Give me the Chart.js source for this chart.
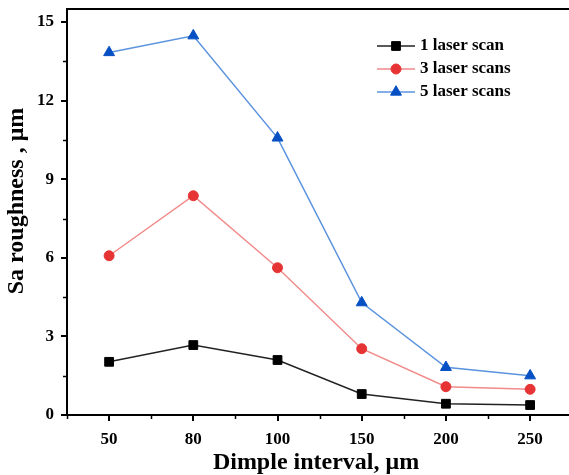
<!DOCTYPE html>
<html>
<head>
<meta charset="utf-8">
<script src="https://cdn.jsdelivr.net/npm/chart.js@4.4.1/dist/chart.umd.min.js"></script>
<style>
html,body{margin:0;padding:0;overflow:hidden;background:#fff;}
#wrap{width:569px;height:475px;}
</style>
</head>
<body>
<div id="wrap"><canvas id="c" width="569" height="475"></canvas></div>
<script>
const categories = ['50', '80', '100', '150', '200', '250'];
const oneScan = [2.03, 2.67, 2.10, 0.80, 0.43, 0.38];
const threeScans = [6.08, 8.37, 5.62, 2.53, 1.08, 0.98];
const fiveScans = [13.84, 14.48, 10.58, 4.29, 1.82, 1.50];
const yTicks = [0, 3, 6, 9, 12, 15];
const yMinorTicks = [1.5, 4.5, 7.5, 10.5, 13.5];
const seriesNames = ['1 laser scan', '3 laser scans', '5 laser scans'];
const xTitle = 'Dimple interval, μm';
const yTitle = 'Sa roughness , μm';

const FONT = "'Liberation Serif', 'Times New Roman', serif";
const toPoints = arr => arr.map((v, i) => ({ x: i, y: v }));

const framePlugin = {
  id: 'frame',
  afterDraw(chart) {
    const ctx = chart.ctx;
    const a = chart.chartArea;
    const W = chart.width;
    const xs = chart.scales.x, ys = chart.scales.y;
    ctx.save();
    ctx.strokeStyle = '#000';
    ctx.lineWidth = 2;
    ctx.beginPath();
    ctx.moveTo(W + 2, a.top);
    ctx.lineTo(a.left, a.top);
    ctx.lineTo(a.left, a.bottom);
    ctx.lineTo(W + 2, a.bottom);
    ctx.stroke();
    // major ticks
    ctx.beginPath();
    yTicks.forEach(v => {
      const y = Math.round(ys.getPixelForValue(v));
      ctx.moveTo(a.left, y);
      ctx.lineTo(a.left - 6, y);
    });
    categories.forEach((c, i) => {
      const x = Math.round(xs.getPixelForValue(i));
      ctx.moveTo(x, a.bottom);
      ctx.lineTo(x, a.bottom + 6);
    });
    ctx.stroke();
    // minor ticks
    ctx.lineWidth = 1.5;
    ctx.beginPath();
    yMinorTicks.forEach(v => {
      const y = Math.round(ys.getPixelForValue(v)) + 0.5;
      ctx.moveTo(a.left, y);
      ctx.lineTo(a.left - 4, y);
    });
    for (let i = -0.5; i < categories.length; i += 1) {
      const x = Math.round(xs.getPixelForValue(i)) + 0.5;
      ctx.moveTo(x, a.bottom);
      ctx.lineTo(x, a.bottom + 4);
    }
    ctx.stroke();
    // axis titles
    ctx.fillStyle = '#000';
    ctx.font = "bold 24px " + FONT;
    ctx.textAlign = 'center';
    ctx.textBaseline = 'alphabetic';
    ctx.fillText(xTitle, 316, 469);
    ctx.translate(23, 201);
    ctx.rotate(-Math.PI / 2);
    ctx.fillText(yTitle, 0, 0);
    ctx.restore();
  }
};

const legendPlugin = {
  id: 'customLegend',
  afterDatasetsDraw(chart) {
    const ctx = chart.ctx;
    const x0 = 377, x1 = 415, tx = 420;
    const rows = [46, 69, 92];
    chart.data.datasets.forEach((ds, i) => {
      const y = rows[i];
      ctx.save();
      ctx.strokeStyle = ds.borderColor;
      ctx.lineWidth = ds.borderWidth;
      ctx.beginPath();
      ctx.moveTo(x0, y);
      ctx.lineTo(x1, y);
      ctx.stroke();
      ctx.fillStyle = ds.pointBackgroundColor;
      ctx.strokeStyle = ds.pointBorderColor;
      ctx.lineWidth = ds.pointBorderWidth;
      Chart.helpers.drawPoint(ctx, {
        pointStyle: ds.pointStyle,
        radius: ds.pointRadius,
        borderWidth: ds.pointBorderWidth,
        rotation: 0
      }, (x0 + x1) / 2, y);
      ctx.fillStyle = '#000';
      ctx.font = "bold 17px " + FONT;
      ctx.textBaseline = 'middle';
      ctx.textAlign = 'left';
      ctx.fillText(seriesNames[i], tx, y);
      ctx.restore();
    });
  }
};

function zeroPad(s) { s.paddingTop = 0; s.paddingBottom = 0; s.paddingLeft = 0; s.paddingRight = 0; }

new Chart(document.getElementById('c'), {
  type: 'line',
  data: {
    datasets: [
      {
        label: seriesNames[0], data: toPoints(oneScan),
        borderColor: '#222222', borderWidth: 1.5,
        pointStyle: 'rect', pointRadius: 6.2, pointBorderWidth: 1,
        pointBackgroundColor: '#000000', pointBorderColor: '#000000'
      },
      {
        label: seriesNames[1], data: toPoints(threeScans),
        borderColor: '#f28a8a', borderWidth: 1.5,
        pointStyle: 'circle', pointRadius: 5, pointBorderWidth: 1,
        pointBackgroundColor: '#e63434', pointBorderColor: '#e63434'
      },
      {
        label: seriesNames[2], data: toPoints(fiveScans),
        borderColor: '#5b93de', borderWidth: 1.5,
        pointStyle: 'triangle', pointRadius: 6.3, pointBorderWidth: 1,
        pointBackgroundColor: '#0650c4', pointBorderColor: '#0650c4'
      }
    ]
  },
  options: {
    responsive: false,
    animation: false,
    layout: { padding: { top: 9, right: 1, left: 0, bottom: 0 } },
    plugins: { legend: { display: false }, tooltip: { enabled: false } },
    elements: { line: { tension: 0 } },
    clip: false,
    scales: {
      x: {
        type: 'linear',
        min: -0.5, max: 5.375,
        afterFit(s) { s.height = 60; zeroPad(s); },
        afterBuildTicks(s) { s.ticks = categories.map((c, i) => ({ value: i })); },
        grid: { display: false, drawTicks: true, tickLength: 6 },
        border: { display: false },
        ticks: {
          color: '#000', padding: 8, maxRotation: 0, autoSkip: false,
          font: { family: FONT, size: 17, weight: 'bold' },
          callback: (v) => categories[v]
        },
        title: { display: false }
      },
      y: {
        min: 0, max: 15.5,
        afterFit(s) { s.width = 67; zeroPad(s); },
        afterBuildTicks(s) { s.ticks = yTicks.map(v => ({ value: v })); },
        grid: { display: false, drawTicks: true, tickLength: 6 },
        border: { display: false },
        ticks: { color: '#000', padding: 7, font: { family: FONT, size: 17, weight: 'bold' } },
        title: { display: false }
      }
    }
  },
  plugins: [framePlugin, legendPlugin]
});
</script>
</body>
</html>
